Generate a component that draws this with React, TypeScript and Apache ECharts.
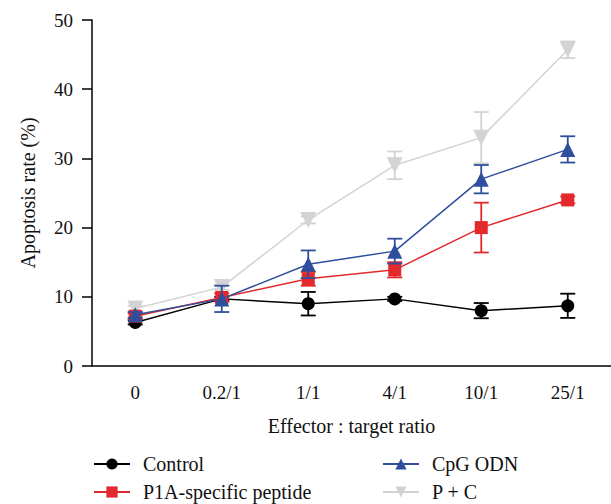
import React, { useEffect, useRef } from "react";
import * as echarts from "echarts";

const categories = ["0", "0.2/1", "1/1", "4/1", "10/1", "25/1"];

const controlMean = [6.3, 9.7, 9.0, 9.7, 8.0, 8.7];
const controlErr = [0.3, 0.3, 1.7, 0.3, 1.1, 1.75];

const p1aMean = [7.2, 9.9, 12.6, 13.9, 20.0, 24.0];
const p1aErr = [0.4, 0.6, 1.0, 1.1, 3.6, 0.5];

const cpgMean = [7.4, 9.7, 14.7, 16.6, 27.0, 31.3];
const cpgErr = [0.4, 1.9, 2.0, 1.8, 2.05, 1.9];

const pcMean = [8.3, 11.4, 21.1, 29.0, 33.0, 45.7];
const pcErr = [0.4, 0.4, 0.5, 2.0, 3.7, 1.2];

const FONT = "'Liberation Serif', serif";

type S = { name: string; mean: number[]; err: number[]; color: string; symbol: string; size: number; z: number; rotate?: number };

const seriesDefs: S[] = [
  { name: "P + C", mean: pcMean, err: pcErr, color: "#d3d3d3", symbol: "triangle", size: 16, z: 2, rotate: 180 },
  { name: "Control", mean: controlMean, err: controlErr, color: "#000000", symbol: "circle", size: 13, z: 3 },
  { name: "P1A-specific peptide", mean: p1aMean, err: p1aErr, color: "#e3292b", symbol: "rect", size: 13, z: 4 },
  { name: "CpG ODN", mean: cpgMean, err: cpgErr, color: "#2f4f9d", symbol: "triangle", size: 15, z: 5 },
];

export default function App() {
  const ref = useRef<HTMLDivElement>(null);
  useEffect(() => {
    if (!ref.current) return;
    const chart = echarts.init(ref.current, null, { renderer: "svg" });
    const series: any[] = [];
    seriesDefs.forEach((d) => {
      series.push({
        name: d.name + " error",
        type: "custom",
        z: d.z,
        silent: true,
        data: d.mean.map((m, i) => [i, m - d.err[i], m + d.err[i]]),
        renderItem: (params: any, api: any) => {
          const lo = api.coord([api.value(0), api.value(1)]);
          const hi = api.coord([api.value(0), api.value(2)]);
          const w = 7.5;
          const style = { stroke: d.color, lineWidth: 1.8 };
          return {
            type: "group",
            children: [
              { type: "line", shape: { x1: lo[0], y1: lo[1], x2: hi[0], y2: hi[1] }, style },
              { type: "line", shape: { x1: lo[0] - w, y1: lo[1], x2: lo[0] + w, y2: lo[1] }, style },
              { type: "line", shape: { x1: hi[0] - w, y1: hi[1], x2: hi[0] + w, y2: hi[1] }, style },
            ],
          };
        },
      });
      series.push({
        name: d.name,
        type: "line",
        z: d.z,
        data: d.mean,
        symbol: d.symbol,
        symbolSize: d.size,
        symbolRotate: d.rotate || 0,
        showSymbol: true,
        showAllSymbol: true,
        lineStyle: { color: d.color, width: 1.5 },
        itemStyle: { color: d.color, borderWidth: 0 },
      });
    });

    const legendText = { fontFamily: FONT, fontSize: 20, color: "#111", padding: [0, 0, 0, 8] };
    const legendBase = {
      orient: "vertical",
      top: 454,
      padding: 0,
      itemWidth: 36,
      itemHeight: 14,
      itemGap: 8,
      textStyle: legendText,
    };
    chart.setOption({
      animation: false,
      backgroundColor: "#ffffff",
      textStyle: { fontFamily: FONT },
      grid: { left: 92, right: 0, top: 20, bottom: 138, containLabel: false },
      legend: [
        { ...legendBase, data: ["Control", "P1A-specific peptide"], left: 93 },
        { ...legendBase, data: ["CpG ODN", "P + C"], left: 382 },
      ],
      xAxis: {
        type: "category",
        data: categories,
        boundaryGap: true,
        name: "Effector : target ratio",
        nameLocation: "middle",
        nameGap: 50,
        nameTextStyle: { fontFamily: FONT, fontSize: 20, color: "#111" },
        axisLine: { lineStyle: { color: "#000", width: 1.5 } },
        axisTick: { alignWithLabel: true, length: 10, lineStyle: { color: "#000", width: 1.5 } },
        axisLabel: { fontFamily: FONT, fontSize: 19, color: "#111", margin: 17 },
      },
      yAxis: {
        type: "value",
        min: 0,
        max: 50,
        interval: 10,
        name: "Apoptosis rate (%)",
        nameLocation: "middle",
        nameGap: 54,
        nameTextStyle: { fontFamily: FONT, fontSize: 20, color: "#111" },
        axisLine: { show: true, lineStyle: { color: "#000", width: 1.5 } },
        axisTick: { show: true, length: 10, lineStyle: { color: "#000", width: 1.5 } },
        axisLabel: { fontFamily: FONT, fontSize: 19, color: "#111", margin: 19 },
        splitLine: { show: false },
      },
      series,
    });
    return () => chart.dispose();
  }, []);
  return (
    <div
      ref={ref}
      style={{ position: "fixed", left: 0, top: 0, width: 611, height: 504, background: "#fff" }}
    />
  );
}
